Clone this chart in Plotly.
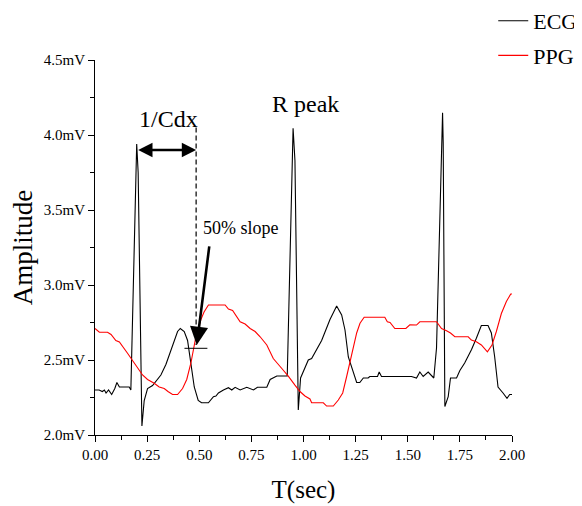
import plotly.graph_objects as go

# ECG trace (time in s, amplitude in mV)
ecg_t = [0.000, 0.020, 0.035, 0.045, 0.053, 0.065, 0.080, 0.095, 0.105, 0.117, 0.140, 0.164, 0.172,
         0.200, 0.207, 0.225, 0.236, 0.252, 0.276, 0.316, 0.340, 0.372, 0.396, 0.409, 0.428, 0.444,
         0.460, 0.476, 0.495, 0.511, 0.544, 0.568, 0.580, 0.592, 0.616, 0.640, 0.656, 0.672, 0.696,
         0.712, 0.728, 0.760, 0.779, 0.824, 0.840, 0.872, 0.922, 0.950, 0.959, 0.975, 0.986, 1.023,
         1.039, 1.087, 1.127, 1.159, 1.183, 1.199, 1.215, 1.255, 1.270, 1.287, 1.310, 1.318, 1.355,
         1.363, 1.374, 1.518, 1.542, 1.558, 1.574, 1.598, 1.625, 1.638, 1.667, 1.670, 1.678, 1.694,
         1.705, 1.734, 1.750, 1.773, 1.806, 1.829, 1.853, 1.885, 1.901, 1.917, 1.933, 1.957, 1.976,
         1.989, 2.000]
ecg_v = [2.30, 2.30, 2.29, 2.30, 2.28, 2.30, 2.27, 2.31, 2.35, 2.32, 2.32, 2.32, 2.30,
         3.94, 3.75, 2.06, 2.23, 2.31, 2.33, 2.40, 2.47, 2.59, 2.69, 2.71, 2.69, 2.63,
         2.46, 2.32, 2.23, 2.215, 2.215, 2.255, 2.26, 2.28, 2.30, 2.315, 2.30, 2.318, 2.30,
         2.31, 2.318, 2.30, 2.318, 2.318, 2.37, 2.393, 2.393, 4.045, 3.83, 2.167, 2.38, 2.50,
         2.51, 2.63, 2.77, 2.86, 2.80, 2.70, 2.52, 2.35, 2.35, 2.38, 2.38, 2.39, 2.39,
         2.42, 2.39, 2.39, 2.38, 2.42, 2.39, 2.42, 2.38, 2.58, 4.149, 3.95, 2.19, 2.255,
         2.38, 2.38, 2.43, 2.48, 2.57, 2.645, 2.73, 2.73, 2.68, 2.52, 2.32, 2.28, 2.245,
         2.27, 2.27]

# PPG trace
ppg_t = [0.000, 0.021, 0.060, 0.077, 0.100, 0.117, 0.156, 0.188, 0.228, 0.252, 0.284, 0.308, 0.332,
         0.350, 0.372, 0.396, 0.420, 0.440, 0.460, 0.484, 0.508, 0.523, 0.544, 0.624, 0.640, 0.660,
         0.680, 0.696, 0.720, 0.744, 0.768, 0.792, 0.824, 0.855, 0.895, 0.927, 0.959, 0.983, 1.007,
         1.031, 1.039, 1.095, 1.111, 1.143, 1.167, 1.188, 1.207, 1.231, 1.255, 1.271, 1.291, 1.390,
         1.402, 1.415, 1.438, 1.491, 1.510, 1.542, 1.558, 1.638, 1.662, 1.686, 1.705, 1.726, 1.790,
         1.805, 1.829, 1.853, 1.882, 1.904, 1.925, 1.949, 1.973, 1.994, 2.000]
ppg_v = [2.71, 2.685, 2.685, 2.67, 2.63, 2.62, 2.545, 2.48, 2.40, 2.37, 2.345, 2.32, 2.31,
         2.29, 2.27, 2.27, 2.31, 2.37, 2.48, 2.655, 2.77, 2.82, 2.867, 2.867, 2.84, 2.83,
         2.79, 2.755, 2.74, 2.71, 2.69, 2.655, 2.60, 2.51, 2.445, 2.393, 2.333, 2.29, 2.26,
         2.24, 2.215, 2.215, 2.193, 2.193, 2.233, 2.28, 2.39, 2.545, 2.68, 2.745, 2.785, 2.785,
         2.755, 2.75, 2.71, 2.71, 2.735, 2.733, 2.755, 2.755, 2.71, 2.695, 2.68, 2.655, 2.655,
         2.633, 2.622, 2.60, 2.555, 2.60, 2.69, 2.81, 2.89, 2.94, 2.94]

x_tickvals = [0, 0.25, 0.5, 0.75, 1.0, 1.25, 1.5, 1.75, 2.0]
x_ticktext = ["0.00", "0.25", "0.50", "0.75", "1.00", "1.25", "1.50", "1.75", "2.00"]
y_tickvals = [2.0, 2.5, 3.0, 3.5, 4.0, 4.5]
y_ticktext = ["2.0mV", "2.5mV", "3.0mV", "3.5mV", "4.0mV", "4.5mV"]

SERIF = "Liberation Serif"

fig = go.Figure()
fig.add_trace(go.Scatter(x=ecg_t, y=ecg_v, mode="lines", name="ECG",
                         line=dict(color="black", width=1.1), legendgroup="a"))
fig.add_trace(go.Scatter(x=ppg_t, y=ppg_v, mode="lines", name="PPG",
                         line=dict(color="#ff0000", width=1.1), legendgroup="b"))

# dashed reference line and 50% slope marker
fig.add_shape(type="line", x0=0.485, x1=0.485, y0=4.05, y1=2.60, xref="x", yref="y",
              line=dict(color="black", width=1.2, dash="5px,3px"))
fig.add_shape(type="line", x0=0.429, x1=0.539, y0=2.578, y1=2.578, xref="x", yref="y",
              line=dict(color="black", width=1))

# double arrow 1/Cdx
fig.add_annotation(x=0.485, y=3.90, ax=0.20, ay=3.90, xref="x", yref="y", axref="x", ayref="y",
                   text="", showarrow=True, arrowhead=2, startarrowhead=2, arrowside="end+start",
                   arrowsize=1.1, startarrowsize=1.1, arrowwidth=2.6, arrowcolor="black")
# 50% slope arrow
fig.add_annotation(x=0.488, y=2.60, ax=0.549, ay=3.267, xref="x", yref="y", axref="x", ayref="y",
                   text="", showarrow=True, arrowhead=2, arrowsize=1.4, arrowwidth=2.6,
                   arrowcolor="black")

fig.add_annotation(x=0.351, y=4.107, text="1/Cdx", showarrow=False, xref="x", yref="y",
                   font=dict(family=SERIF, size=24, color="black"))
fig.add_annotation(x=1.008, y=4.207, text="R peak", showarrow=False, xref="x", yref="y",
                   font=dict(family=SERIF, size=24, color="black"))
fig.add_annotation(x=0.701, y=3.38, text="50% slope", showarrow=False, xref="x", yref="y",
                   font=dict(family=SERIF, size=18, color="black"))

fig.update_layout(
    width=574, height=498,
    margin=dict(l=87, r=70, t=52, b=71, autoexpand=False),
    paper_bgcolor="white", plot_bgcolor="white",
    font=dict(family=SERIF, color="black"),
    showlegend=True,
    legend=dict(x=0.955, y=1.16, xanchor="left", yanchor="top",
                font=dict(family=SERIF, size=22, color="black"),
                bgcolor="rgba(0,0,0,0)", tracegroupgap=3, itemwidth=30),
    xaxis=dict(range=[0, 2], tickvals=x_tickvals, ticktext=x_ticktext,
               showline=True, linecolor="black", linewidth=1, mirror=False,
               ticks="outside", ticklen=6, tickwidth=1, tickcolor="black",
               minor=dict(dtick=0.125, ticks="outside", ticklen=4, tickcolor="black", tickwidth=1),
               showgrid=False, zeroline=False,
               tickfont=dict(family=SERIF, size=15, color="black"),
               title=dict(text="T(sec)", font=dict(family=SERIF, size=25, color="black"), standoff=18)),
    yaxis=dict(range=[2, 4.5], tickvals=y_tickvals, ticktext=y_ticktext,
               showline=True, linecolor="black", linewidth=1, mirror=False,
               ticks="outside", ticklen=6, tickwidth=1, tickcolor="black",
               minor=dict(dtick=0.25, ticks="outside", ticklen=4, tickcolor="black", tickwidth=1),
               showgrid=False, zeroline=False,
               tickfont=dict(family=SERIF, size=15, color="black"),
               title=dict(text="Amplitude", font=dict(family=SERIF, size=27, color="black"), standoff=12)),
)

fig.write_html("out.html")
